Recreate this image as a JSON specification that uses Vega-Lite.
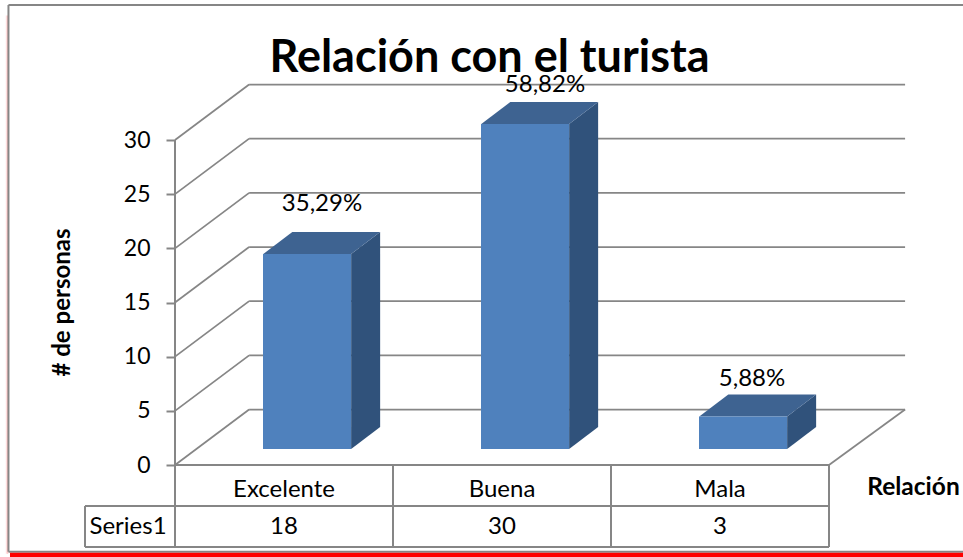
{
"$schema":"https://vega.github.io/schema/vega-lite/v6.json",
"width":963,"height":557,"padding":0,"autosize":{"type":"none"},
"background":"white",
"config":{"view":{"stroke":null},"font":"Lato","text":{"font":"Lato"}},
"title":{"text":"Relación con el turista","font":"Lato","fontSize":45,"fontWeight":"bold","color":"#000000","anchor":"middle","dx":8,"dy":85},
"datasets":{
"bars":[{"cat":"Excelente","i":0,"value":18,"pct":"35,29%"},{"cat":"Buena","i":1,"value":30,"pct":"58,82%"},{"cat":"Mala","i":2,"value":3,"pct":"5,88%"}],
"grid":[{"v":0},{"v":5},{"v":10},{"v":15},{"v":20},{"v":25},{"v":30}],
"edges":[{"k":0},{"k":1},{"k":2},{"k":3}],
"one":[{"o":1}]
},
"encoding":{
"x":{"type":"quantitative","scale":{"domain":[-0.8028,3.6147],"nice":false,"zero":false},
"axis":{"orient":"bottom","title":"Relación","titleFont":"Lato","titleFontSize":24.5,"titleFontWeight":"bold","titleColor":"#000000","titleAnchor":"start","titleAlign":"center","titleBaseline":"middle","titleX":913,"titleY":-70,"labels":false,"ticks":false,"domain":false,"grid":false}},
"y":{"type":"quantitative","scale":{"domain":[-8.492,42.923],"nice":false,"zero":false},
"axis":{"orient":"left","offset":-175,"values":[0,5,10,15,20,25,30],"grid":false,"domain":false,"tickSize":9,"tickColor":"#868686","tickWidth":2,"labelFont":"Lato","labelFontSize":23,"labelColor":"#000000","labelPadding":16,"title":"# de personas","titleFont":"Lato","titleFontSize":24,"titleFontWeight":"bold","titleColor":"#000000","titleAngle":-90,"titleAlign":"center","titleBaseline":"middle","titleAnchor":"start","titleX":-113,"titleY":302}}
},
"layer":[
{"data":{"name":"one"},"mark":{"type":"rect","color":{"gradient":"linear","x1":0,"x2":1,"y1":0,"y2":0,"stops":[{"offset":0,"color":"#ffffff"},{"offset":1,"color":"#ffb0b0"}]}},
 "encoding":{"x":{"datum":-0.779},"x2":{"datum":-0.765},"y":{"datum":41.5},"y2":{"datum":-8.2}}},
{"data":{"name":"one"},"mark":{"type":"rule","color":"#868686","strokeWidth":2},"encoding":{"x":{"datum":-0.764},"x2":{"datum":3.6147},"y":{"datum":42.47}}},
{"data":{"name":"one"},"mark":{"type":"rule","color":"#868686","strokeWidth":2},"encoding":{"x":{"datum":-0.764},"y":{"datum":42.47},"y2":{"datum":-8.0}}},
{"data":{"name":"one"},"mark":{"type":"rule","color":"#868686","strokeWidth":2},"encoding":{"x":{"datum":-0.764},"x2":{"datum":3.6147},"y":{"datum":-8.0}}},
{"data":{"name":"one"},"mark":{"type":"rect","color":"#ff0000"},"encoding":{"x":{"datum":-0.757},"x2":{"datum":3.6147},"y":{"datum":-8.1},"y2":{"datum":-8.492}}},

{"data":{"name":"grid"},"mark":{"type":"rule","color":"#868686","strokeWidth":1.75,"y2Offset":-55.5},"encoding":{"x":{"datum":0},"x2":{"datum":0.34},"y":{"field":"v","type":"quantitative"},"y2":{"field":"v"}}},
{"data":{"name":"grid"},"mark":{"type":"rule","color":"#868686","strokeWidth":1.75,"yOffset":-55.5},"encoding":{"x":{"datum":0.34},"x2":{"datum":3.349},"y":{"field":"v","type":"quantitative"}}},
{"data":{"name":"one"},"mark":{"type":"rule","color":"#868686","strokeWidth":2},"encoding":{"x":{"datum":0},"y":{"datum":0},"y2":{"datum":30}}},
{"data":{"name":"one"},"mark":{"type":"rule","color":"#868686","strokeWidth":1.75,"y2Offset":-55.5},"encoding":{"x":{"datum":3},"x2":{"datum":3.349},"y":{"datum":0},"y2":{"datum":0}}},

{"data":{"name":"edges"},"mark":{"type":"rule","color":"#868686","strokeWidth":2},"encoding":{"x":{"field":"k","type":"quantitative"},"y":{"datum":0},"y2":{"datum":-7.57}}},
{"data":{"name":"one"},"mark":{"type":"rule","color":"#868686","strokeWidth":2},"encoding":{"x":{"datum":0},"x2":{"datum":3},"y":{"datum":0}}},
{"data":{"name":"one"},"mark":{"type":"rule","color":"#868686","strokeWidth":2},"encoding":{"x":{"datum":-0.413},"x2":{"datum":3},"y":{"datum":-3.785}}},
{"data":{"name":"one"},"mark":{"type":"rule","color":"#868686","strokeWidth":2},"encoding":{"x":{"datum":-0.413},"x2":{"datum":3},"y":{"datum":-7.57}}},
{"data":{"name":"one"},"mark":{"type":"rule","color":"#868686","strokeWidth":2},"encoding":{"x":{"datum":-0.413},"y":{"datum":-3.785},"y2":{"datum":-7.57}}},

{"data":{"name":"bars"},"transform":[{"calculate":"[0,1]","as":"d"},{"flatten":["d"]},{"calculate":"datum.i+0.808+datum.d*0.133","as":"sx"},{"calculate":"datum.value+1.48+datum.d*2.03","as":"sy"},{"calculate":"1.48+datum.d*2.03","as":"sy2"}],
 "mark":{"type":"area","color":"#30527B","orient":"vertical"},
 "encoding":{"x":{"field":"sx","type":"quantitative"},"y":{"field":"sy","type":"quantitative","stack":null},"y2":{"field":"sy2"},"detail":{"field":"cat"}}},
{"data":{"name":"bars"},"transform":[{"calculate":"[0,1]","as":"d"},{"flatten":["d"]},{"calculate":"datum.i+0.405+datum.d*0.133","as":"tx"},{"calculate":"datum.i+0.808+datum.d*0.133","as":"tx2"},{"calculate":"datum.value+1.48+datum.d*2.03","as":"ty"}],
 "mark":{"type":"area","color":"#3E6391","orient":"horizontal"},
 "encoding":{"x":{"field":"tx","type":"quantitative","stack":null},"x2":{"field":"tx2"},"y":{"field":"ty","type":"quantitative"},"detail":{"field":"cat"}}},
{"data":{"name":"bars"},"mark":{"type":"rect","color":"#4F81BD","xOffset":88,"x2Offset":176,"yOffset":-16,"y2Offset":-16},
 "encoding":{"x":{"field":"i","type":"quantitative"},"x2":{"field":"i"},"y":{"field":"value","type":"quantitative"},"y2":{"datum":0}}},

{"data":{"name":"bars"},"transform":[{"filter":"datum.i==0"}],"mark":{"type":"text","font":"Lato","fontSize":24,"color":"#000000","dx":147,"dy":-66},"encoding":{"x":{"field":"i","type":"quantitative"},"y":{"field":"value","type":"quantitative"},"text":{"field":"pct"}}},
{"data":{"name":"bars"},"transform":[{"filter":"datum.i==1"}],"mark":{"type":"text","font":"Lato","fontSize":24,"color":"#000000","dx":152,"dy":-55},"encoding":{"x":{"field":"i","type":"quantitative"},"y":{"field":"value","type":"quantitative"},"text":{"field":"pct"}}},
{"data":{"name":"bars"},"transform":[{"filter":"datum.i==2"}],"mark":{"type":"text","font":"Lato","fontSize":24,"color":"#000000","dx":141,"dy":-53.5},"encoding":{"x":{"field":"i","type":"quantitative"},"y":{"field":"value","type":"quantitative"},"text":{"field":"pct"}}},
{"data":{"name":"bars"},"mark":{"type":"text","font":"Lato","fontSize":24,"color":"#000000","dx":109,"dy":25},"encoding":{"x":{"field":"i","type":"quantitative"},"y":{"datum":0},"text":{"field":"cat"}}},
{"data":{"name":"bars"},"mark":{"type":"text","font":"Lato","fontSize":24,"color":"#000000","dx":109,"dy":62},"encoding":{"x":{"field":"i","type":"quantitative"},"y":{"datum":0},"text":{"field":"value","type":"quantitative"}}},
{"data":{"name":"one"},"mark":{"type":"text","font":"Lato","fontSize":24,"color":"#000000","dx":-47,"dy":62},"encoding":{"x":{"datum":0},"y":{"datum":0},"text":{"value":"Series1"}}}
]
}
